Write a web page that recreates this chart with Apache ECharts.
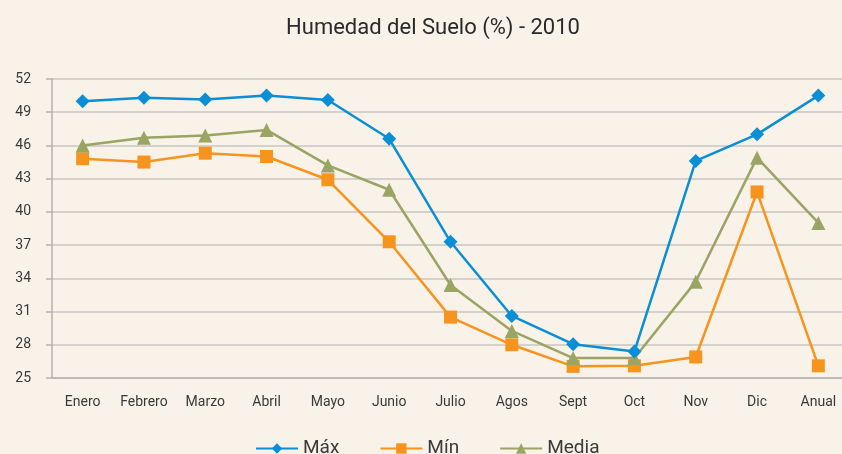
<!DOCTYPE html>
<html>
<head>
<meta charset="utf-8">
<script src="https://cdn.jsdelivr.net/npm/echarts@6/dist/echarts.min.js"></script>
<style>
  html, body { margin: 0; padding: 0; background: #f8f2e9; overflow: hidden; }
</style>
</head>
<body>
<!-- el grafico original se corta por la derecha, por eso el div es mas ancho -->
<div id="chart" style="width:849px; height:454px;"></div>
<script>
  // meses + anual
  var meses = ['Enero', 'Febrero', 'Marzo', 'Abril', 'Mayo', 'Junio', 'Julio', 'Agos', 'Sept', 'Oct', 'Nov', 'Dic', 'Anual'];
  var maxVals = [50.0, 50.3, 50.15, 50.5, 50.1, 46.6, 37.3, 30.6, 28.05, 27.4, 44.6, 47.0, 50.5];
  var minVals = [44.8, 44.5, 45.3, 45.0, 42.9, 37.3, 30.5, 28.0, 26.05, 26.1, 26.9, 41.8, 26.1];
  var mediaVals = [46.0, 46.7, 46.9, 47.4, 44.2, 42.0, 33.4, 29.25, 26.8, 26.8, 33.7, 44.9, 39.0];

  var fuente = 'Roboto, sans-serif';
  var txt = '#3a3a3a';

  var myChart = echarts.init(document.getElementById('chart'));

  var option = {
    backgroundColor: '#f8f2e9',
    title: {
      text: 'Humedad del Suelo (%) - 2010',
      left: 428,
      textAlign: 'center',
      top: 12,
      textStyle: { fontFamily: fuente, fontSize: 22, fontWeight: 'normal', color: '#2a2a2a' }
    },
    legend: {
      bottom: -9,
      left: 250,
      itemWidth: 42,
      itemHeight: 13,
      itemGap: 40,
      textStyle: { fontFamily: fuente, fontSize: 19, color: txt },
      data: ['Máx', 'Mín', 'Media']
    },
    grid: { left: 52, right: 0, top: 79, bottom: 76 },
    xAxis: {
      type: 'category',
      data: meses,
      boundaryGap: true,
      axisLine: { lineStyle: { color: '#b5b2ae', width: 1.5 } },
      axisTick: { length: 5, lineStyle: { color: '#b5b2ae', width: 1.5 } },
      axisLabel: { interval: 0, margin: 17, fontFamily: fuente, fontSize: 14, color: txt }
    },
    yAxis: {
      type: 'value',
      min: 25,
      max: 52,
      interval: 3,
      axisLine: { show: true, lineStyle: { color: '#b5b2ae', width: 1.5 } },
      axisTick: { show: true, length: 6, lineStyle: { color: '#b5b2ae', width: 1.5 } },
      splitLine: { lineStyle: { color: '#c8c5c1', width: 1.5 } },
      axisLabel: { margin: 21, fontFamily: fuente, fontSize: 14, color: txt }
    },
    series: [
      {
        name: 'Máx',
        type: 'line',
        data: maxVals,
        symbol: 'diamond',
        symbolSize: 14,
        lineStyle: { width: 2.5, color: '#0a8fd6' },
        itemStyle: { color: '#0a8fd6' },
        z: 3
      },
      {
        name: 'Mín',
        type: 'line',
        data: minVals,
        symbol: 'rect',
        symbolSize: 13,
        lineStyle: { width: 2.5, color: '#f7941d' },
        itemStyle: { color: '#f7941d' },
        z: 2
      },
      {
        name: 'Media',
        type: 'line',
        data: mediaVals,
        symbol: 'triangle',
        symbolSize: 14,
        lineStyle: { width: 2.5, color: '#9aa463' },
        itemStyle: { color: '#9aa463' },
        z: 2
      }
    ]
  };

  myChart.setOption(option, true);
</script>
</body>
</html>
